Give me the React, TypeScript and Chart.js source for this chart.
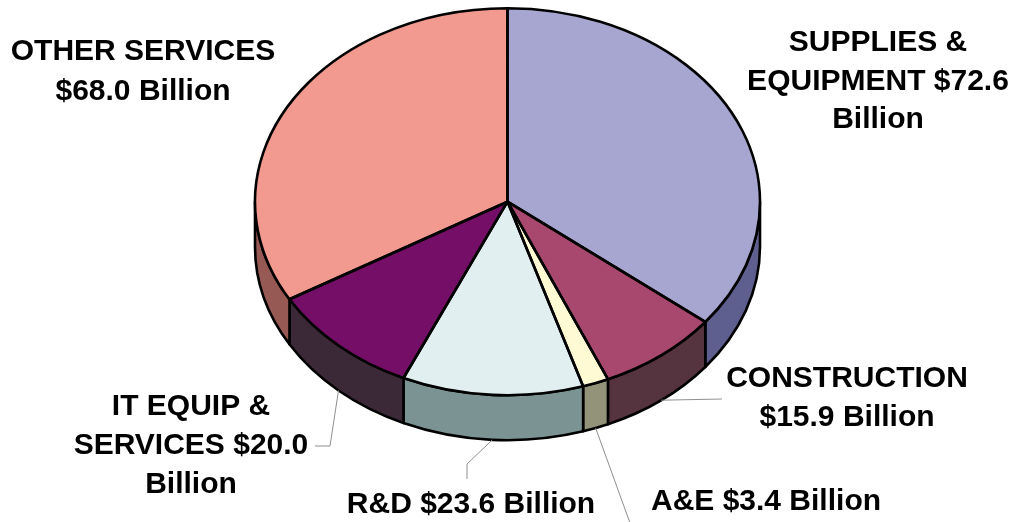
import React, { useEffect, useRef } from "react";
import { Chart, registerables } from "chart.js";

Chart.register(...registerables);

// ---- data ----
const categories = [
  "SUPPLIES & EQUIPMENT",
  "CONSTRUCTION",
  "A&E",
  "R&D",
  "IT EQUIP & SERVICES",
  "OTHER SERVICES",
];
const valuesBillion = [72.6, 15.9, 3.4, 23.6, 20.0, 68.0];
// label text lines; {v} is replaced by the slice value
const labelTemplates = [
  ["SUPPLIES &", "EQUIPMENT {v}", "Billion"],
  ["CONSTRUCTION", "{v} Billion"],
  ["A&E {v} Billion"],
  ["R&D {v} Billion"],
  ["IT EQUIP &", "SERVICES {v}", "Billion"],
  ["OTHER SERVICES", "{v} Billion"],
];

// ---- styles / layout ----
const topColors = ["#A6A6D1", "#A8486F", "#FEFAD3", "#E1EFF0", "#740E66", "#F29A8F"];
const sideColors = ["#5F5F8F", "#56343F", "#93937A", "#7B9393", "#3C2937", "#975954"];
const ELL = { cx: 507.5, cy: 201.7, rx: 252.5, ry: 193.5, depth: 45 };
const LABEL_POS = [
  { x: 878, ys: [43, 82, 120] },
  { x: 847, ys: [379, 418] },
  { x: 766, ys: [502] },
  { x: 471, ys: [505] },
  { x: 191, ys: [407, 446, 485] },
  { x: 143, ys: [52, 92] },
];
const LEADERS: (number[][] | null)[] = [
  null,
  [[722, 399]],
  [[630, 523]],
  [[467, 464], [467, 479]],
  [[330, 446], [315, 446]],
  null,
];
const FONT = 'bold 30px "Liberation Sans", Arial, sans-serif';

function ept(a: number, dy = 0) {
  return [ELL.cx + ELL.rx * Math.cos(a), ELL.cy + ELL.ry * Math.sin(a) + dy];
}

const pie3d = {
  id: "pie3d",
  beforeDatasetsDraw(chart: any) {
    const ctx = chart.ctx as CanvasRenderingContext2D;
    const arcs = chart.getDatasetMeta(0).data;
    const { cx, cy, rx, ry, depth } = ELL;
    arcs.forEach((el: any, i: number) => {
      const { startAngle, endAngle } = el.getProps(["startAngle", "endAngle"], true);
      const a1 = Math.max(startAngle, 0);
      const a2 = Math.min(endAngle, Math.PI);
      if (a2 <= a1) return;
      ctx.beginPath();
      ctx.ellipse(cx, cy, rx, ry, 0, a1, a2, false);
      const p = ept(a2, depth);
      ctx.lineTo(p[0], p[1]);
      ctx.ellipse(cx, cy + depth, rx, ry, 0, a2, a1, true);
      ctx.closePath();
      ctx.fillStyle = sideColors[i];
      ctx.fill();
      ctx.lineWidth = 2.6;
      ctx.lineJoin = "round";
      ctx.strokeStyle = "#000";
      ctx.stroke();
    });
    const { x, y, outerRadius } = arcs[0].getProps(["x", "y", "outerRadius"], true);
    ctx.save();
    ctx.translate(cx, cy);
    ctx.scale(rx / outerRadius, ry / outerRadius);
    ctx.translate(-x, -y);
  },
  afterDatasetsDraw(chart: any) {
    const ctx = chart.ctx as CanvasRenderingContext2D;
    ctx.restore();
    const arcs = chart.getDatasetMeta(0).data;
    const { cx, cy, rx, ry } = ELL;
    ctx.save();
    ctx.lineWidth = 2.6;
    ctx.lineJoin = "round";
    ctx.strokeStyle = "#000";
    arcs.forEach((el: any) => {
      const { startAngle, endAngle } = el.getProps(["startAngle", "endAngle"], true);
      const p = ept(startAngle);
      ctx.beginPath();
      ctx.moveTo(cx, cy);
      ctx.lineTo(p[0], p[1]);
      ctx.ellipse(cx, cy, rx, ry, 0, startAngle, endAngle, false);
      ctx.closePath();
      ctx.stroke();
    });
    ctx.restore();
  },
  afterDraw(chart: any) {
    const ctx = chart.ctx as CanvasRenderingContext2D;
    const arcs = chart.getDatasetMeta(0).data;
    ctx.save();
    // leader lines
    ctx.strokeStyle = "#8f8f8f";
    ctx.lineWidth = 1;
    arcs.forEach((el: any, i: number) => {
      const pts = LEADERS[i];
      if (!pts) return;
      const { startAngle, endAngle } = el.getProps(["startAngle", "endAngle"], true);
      const p0 = ept((startAngle + endAngle) / 2, ELL.depth);
      ctx.beginPath();
      ctx.moveTo(p0[0], p0[1]);
      pts.forEach((q) => ctx.lineTo(q[0], q[1]));
      ctx.stroke();
    });
    // labels
    ctx.font = FONT;
    ctx.fillStyle = "#000";
    ctx.textAlign = "center";
    ctx.textBaseline = "middle";
    const vals = chart.data.datasets[0].data as number[];
    labelTemplates.forEach((lines, i) => {
      const pos = LABEL_POS[i];
      lines.forEach((ln, j) => {
        const txt = ln.replace("{v}", "$" + vals[i].toFixed(1));
        ctx.fillText(txt, pos.x, pos.ys[j]);
      });
    });
    ctx.restore();
  },
};

export default function App() {
  const ref = useRef<HTMLCanvasElement | null>(null);
  useEffect(() => {
    if (!ref.current) return;
    const chart = new Chart(ref.current, {
      type: "pie",
      data: {
        labels: categories,
        datasets: [
          {
            data: valuesBillion,
            backgroundColor: topColors,
            borderWidth: 0,
            clip: false as any,
          } as any,
        ],
      },
      options: {
        responsive: false,
        maintainAspectRatio: false,
        animation: false,
        events: [],
        layout: { padding: 0 },
        plugins: {
          legend: { display: false },
          tooltip: { enabled: false },
        },
      },
      plugins: [pie3d as any],
    });
    return () => chart.destroy();
  }, []);
  return (
    <div style={{ position: "absolute", left: 0, top: 0, width: 1017, height: 522, background: "#fff" }}>
      <canvas ref={ref} width={1017} height={522} style={{ display: "block", width: 1017, height: 522 }} />
    </div>
  );
}
